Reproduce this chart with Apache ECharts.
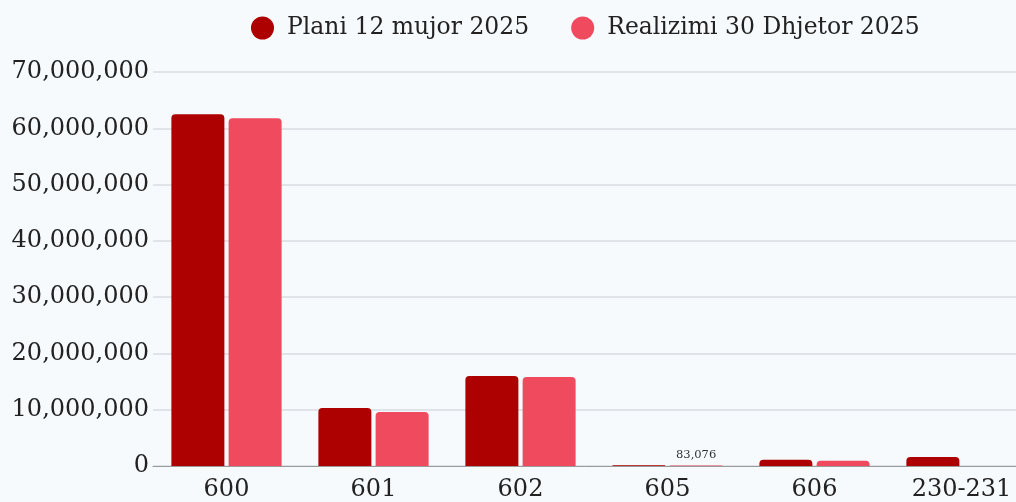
<!DOCTYPE html>
<html>
<head>
<meta charset="utf-8">
<script src="https://cdn.jsdelivr.net/npm/echarts@6/dist/echarts.min.js"></script>
<style>
  html, body { margin: 0; padding: 0; background: #f6fafd; }
  #chart { width: 1016px; height: 502px; }
</style>
</head>
<body>
<div id="chart"></div>
<script>
// kategorite (llogarite)
var categories = ['600', '601', '602', '605', '606', '230-231'];
var planValues = [62500000, 10300000, 16000000, 150000, 1100000, 1600000];
var realValues = [61800000, 9600000, 15800000, 83076, 950000, 0];
var seriesNames = ['Plani 12 mujor 2025', 'Realizimi 30 Dhjetor 2025'];
var labelled = ['605']; // vetem ky ka etikete

var font = '"DejaVu Serif", "Liberation Serif", serif';

var chart = echarts.init(document.getElementById('chart'));
var option = {
    backgroundColor: '#f6fafd',
    textStyle: { fontFamily: font },
    legend: {
        top: 11,
        left: 246,
        itemWidth: 23,
        itemHeight: 23,
        itemGap: 42,
        icon: 'circle',
        textStyle: { fontSize: 23.5, color: '#222', fontFamily: font, padding: [0, 0, 0, 8] },
        data: seriesNames
    },
    grid: {
        left: 153,
        top: 72,
        width: 882,
        height: 394,
        outerBoundsMode: 'none'
    },
    xAxis: {
        type: 'category',
        data: categories,
        axisTick: { show: false },
        axisLine: { lineStyle: { color: '#9a9a9a', width: 1 } },
        axisLabel: { fontSize: 24, color: '#222', margin: 12, fontFamily: font }
    },
    yAxis: {
        type: 'value',
        min: 0,
        max: 70000000,
        interval: 10000000,
        axisLabel: {
            fontSize: 24, color: '#222', margin: 4, fontFamily: font,
            formatter: function (v) { return v.toLocaleString('en-US'); }
        },
        splitLine: { lineStyle: { color: '#d9dde0', width: 1.5 } }
    },
    series: [
        {
            name: seriesNames[0],
            type: 'bar',
            data: planValues,
            barWidth: 53,
            barGap: '8%',
            itemStyle: { color: '#ad0000', borderRadius: [4, 4, 0, 0] }
        },
        {
            name: seriesNames[1],
            type: 'bar',
            data: realValues,
            barWidth: 53,
            itemStyle: { color: '#f04a5e', borderRadius: [4, 4, 0, 0] },
            label: {
                show: true,
                position: 'top',
                fontSize: 11.5,
                color: '#333',
                fontFamily: font,
                distance: 5,
                formatter: function (p) {
                    if (labelled.indexOf(p.name) < 0) return '';
                    return p.value.toLocaleString('en-US');
                }
            }
        }
    ]
};
chart.setOption(option);
</script>
</body>
</html>
